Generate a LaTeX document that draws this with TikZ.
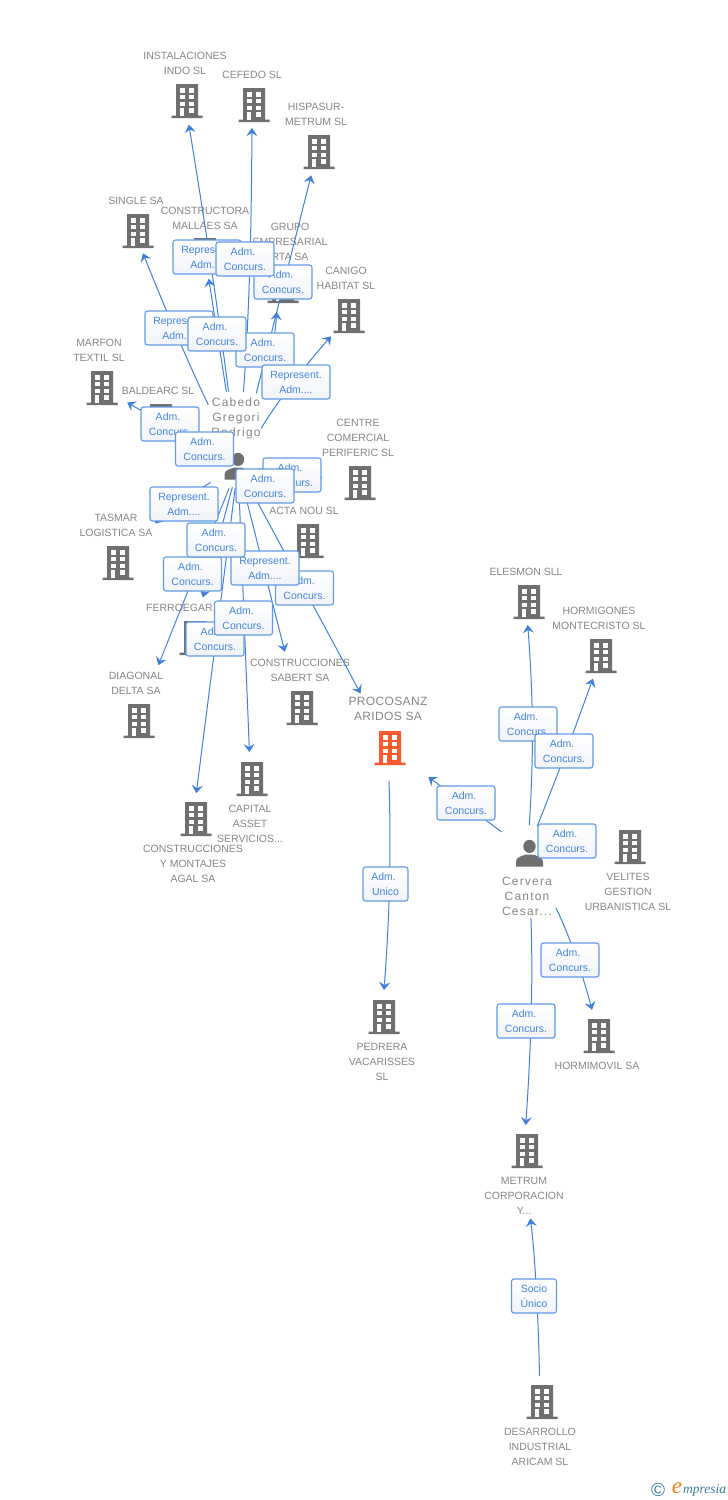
\documentclass[tikz,border=0pt]{standalone}
\usepackage{fontspec}
\setmainfont{Liberation Sans}
\newfontfamily\namefont[LetterSpace=10]{Liberation Sans}
\newfontfamily\firmfont[LetterSpace=3]{Liberation Sans}
\newfontfamily\logofont{Liberation Serif}
\usetikzlibrary{arrows.meta}

\definecolor{iconGrey}{HTML}{6F6F6F}
\definecolor{textGrey}{HTML}{858585}
\definecolor{lineBlue}{HTML}{3F80DE}
\definecolor{boxBlue}{HTML}{5F9BE6}
\definecolor{boxText}{HTML}{3F85DF}
\definecolor{boxShade}{HTML}{F1F3F8}
\definecolor{mainOrange}{HTML}{FF5A2C}
\definecolor{logoTeal}{HTML}{3A7C9C}
\definecolor{logoOrange}{HTML}{F58220}

% building and person icons, drawn round the centre of the node
\newcommand{\bldgicon}[1]{
\begin{scope}[shift={(path picture bounding box.center)}]
\fill[#1] (-11,-17) rectangle (11,15) (-15.5,14.5) rectangle (15.5,17);
\foreach \wy in {-12.7,-6,0.7}{
\fill[white] (-7.2,\wy) rectangle (-2.5,\wy+4.4);
\fill[white] (2.2,\wy) rectangle (6.8,\wy+4.4);
}
\fill[white] (-7,7.3) rectangle (-2.7,14.5);
\fill[white] (2.2,7.3) rectangle (6.8,11.7);
\end{scope}
}
\newcommand{\persicon}{
\begin{scope}[shift={(path picture bounding box.center)}]
\fill[iconGrey] (0,-6.6) ellipse (6.2 and 6.6);
\fill[iconGrey] (-13.5,13.7) -- (-13.5,9) .. controls (-13.5,4) and (-9,3.5) .. (-3.5,1.5) -- (3.5,1.5) .. controls (9,3.5) and (13.5,4) .. (13.5,9) -- (13.5,13.7) -- cycle;
\end{scope}
}
\newcommand{\admcon}{Adm.\kern4pt\\Concurs.}

\tikzset{
bldg/.style={inner sep=0pt,minimum width=32pt,minimum height=34pt,path picture={\bldgicon{iconGrey}}},
mainbldg/.style={inner sep=0pt,minimum width=32pt,minimum height=34pt,path picture={\bldgicon{mainOrange}}},
pers/.style={inner sep=0pt,minimum width=28pt,minimum height=28pt,path picture={\persicon}},
firm/.style={inner sep=0pt,yshift=-0.7pt,align=center,text=textGrey,font=\fontsize{10.5}{15}\selectfont},
mainfirm/.style={inner sep=0pt,yshift=-0.7pt,align=center,text=textGrey,font=\firmfont\fontsize{12}{15}\selectfont},
pname/.style={inner sep=0pt,yshift=-0.7pt,align=center,text=textGrey,font=\namefont\fontsize{12}{15}\selectfont},
conn/.style={lineBlue,line width=1pt,-{Stealth[length=8pt,width=11pt,inset=3pt]}},
role/.style={draw=boxBlue,line width=1.1pt,rounded corners=2.5pt,top color=white,bottom color=boxShade,
  inner sep=0pt,align=center,text=boxText,font=\fontsize{10.5}{15}\selectfont,minimum width=58pt,minimum height=34pt},
rolewide/.style={role,minimum width=68pt},
rolesmall/.style={role,minimum width=45pt}
}

\begin{document}
\begin{tikzpicture}[x=1pt,y=-1pt]
\useasboundingbox (0,0) rectangle (728,1500);

% labels
\node[firm] (lindo) at (185,62.5) {INSTALACIONES\\INDO SL};
\node[firm] (lcefedo) at (252,74) {CEFEDO SL};
\node[firm] (lhisp) at (316,113.5) {HISPASUR-\\METRUM SL};
\node[firm] (lsingle) at (136,200) {SINGLE SA};
\node[firm] (lmall) at (205,217.5) {CONSTRUCTORA\\MALLAES SA};
\node[firm] (lgrupo) at (290,241) {GRUPO\\EMPRESARIAL\\RTA SA};
\node[firm] (lcanigo) at (346,277.5) {CANIGO\\HABITAT SL};
\node[firm] (lmarfon) at (99,349.5) {MARFON\\TEXTIL SL};
\node[firm] (lbald) at (158,390) {BALDEARC SL};
\node[firm] (lcentre) at (358,437) {CENTRE\\COMERCIAL\\PERIFERIC SL};
\node[firm] (lacta) at (304,510) {ACTA NOU SL};
\node[firm] (ltasmar) at (116,524.5) {TASMAR\\LOGISTICA SA};
\node[firm,anchor=west] (lferro) at (146,607) {FERROEGAR};
\node[firm] (ldiag) at (136,682.5) {DIAGONAL\\DELTA SA};
\node[firm] (lsabert) at (300,669.5) {CONSTRUCCIONES\\SABERT SA};
\node[firm] (lcapital) at (250,823) {CAPITAL\\ASSET\\SERVICIOS...};
\node[firm] (lagal) at (193,863) {CONSTRUCCIONES\\Y MONTAJES\\AGAL SA};
\node[mainfirm] (lproc) at (388,708.5) {PROCOSANZ\\ARIDOS SA};
\node[firm] (lpedr) at (382,1061) {PEDRERA\\VACARISSES\\SL};
\node[firm] (lelesmon) at (526,571) {ELESMON SLL};
\node[firm] (lhorm) at (599,617.5) {HORMIGONES\\MONTECRISTO SL};
\node[firm] (lvel) at (628,891) {VELITES\\GESTION\\URBANISTICA SL};
\node[firm] (lmovil) at (597,1065) {HORMIMOVIL SA};
\node[firm] (lmetrum) at (524,1195) {METRUM\\CORPORACION\\Y...};
\node[firm] (ldesa) at (540,1446) {DESARROLLO\\INDUSTRIAL\\ARICAM SL};
\node[pname] (lcab) at (236,418) {Cabedo\\Gregori\\Rodrigo};
\node[pname] (lcerv) at (527,896) {Cervera\\Canton\\Cesar...};

% companies
\node[bldg] (indo) at (187,101) {};
\node[bldg] (cefedo) at (254,105) {};
\node[bldg] (hisp) at (319,152) {};
\node[bldg] (single) at (138,231) {};
\node[bldg] (mall) at (205,255) {};
\node[bldg] (grupo) at (283,286) {};
\node[bldg] (canigo) at (349,316) {};
\node[bldg] (marfon) at (102,388) {};
\node[bldg] (bald) at (161,421) {};
\node[bldg] (centre) at (360,483) {};
\node[bldg] (acta) at (308,541) {};
\node[bldg] (tasmar) at (118,563) {};
\node[bldg] (ferro) at (195,638) {};
\node[bldg] (diag) at (139,721) {};
\node[bldg] (sabert) at (302,708) {};
\node[bldg] (capital) at (252,779) {};
\node[bldg] (agal) at (196,819) {};
\node[mainbldg] (proc) at (390,748) {};
\node[bldg] (pedr) at (384,1017) {};
\node[bldg] (elesmon) at (529,602) {};
\node[bldg] (horm) at (601,656) {};
\node[bldg] (vel) at (630,847) {};
\node[bldg] (movil) at (599,1036) {};
\node[bldg] (metrum) at (527,1151) {};
\node[bldg] (desa) at (542,1402) {};
\node[pers] (cab) at (238,466) {};
\node[pers] (cerv) at (529.5,853) {};

% connectors
\draw[conn,shorten <=75pt,shorten >=24pt] (cab.center) to[bend right=1] ([xshift=-2pt]indo.center);
\draw[conn,shorten <=74pt,shorten >=23pt] (cab.center) to[bend right=2] ([xshift=-2pt]cefedo.center);
\draw[conn,shorten <=75pt,shorten >=24pt] (cab.center) to ([xshift=-2pt]hisp.center);
\draw[conn,shorten <=75pt,shorten >=26pt] (cab.center) to[bend right=8] ([xshift=-4pt]grupo.center);
\draw[conn,shorten <=44pt,shorten >=27pt] (cab.center) to[bend left=5] (canigo.center);
\draw[conn,shorten <=68pt,shorten >=24pt] (cab.center) to[bend left=2] ([xshift=-4pt]single.center);
\draw[conn,shorten <=75pt,shorten >=24pt] (cab.center) to (mall.center);
\draw[conn,shorten <=29pt,shorten >=29pt] (cab.center) to (marfon.center);
\draw[conn,shorten <=30pt,shorten >=24pt] (cab.center) to (bald.center);
\draw[conn,shorten <=20pt,shorten >=38pt] (cab.center) to (centre.center);
\draw[conn,shorten <=15pt,shorten >=55pt] (cab.center) to (acta.center);
\draw[conn,shorten <=32pt,shorten >=54pt] (cab.center) to[bend right=8] (tasmar.center);
\draw[conn,shorten <=22pt,shorten >=42pt] (cab.center) to ([xshift=-3pt]ferro.center);
\draw[conn,shorten <=24pt,shorten >=60pt] (cab.center) to ([xshift=-3pt]diag.center);
\draw[conn,shorten <=22pt,shorten >=26pt] (cab.center) to ([xshift=-3pt]agal.center);
\draw[conn,shorten <=21pt,shorten >=27pt] (cab.center) to ([xshift=-1.5pt]capital.center);
\draw[conn,shorten <=21pt,shorten >=58pt] (cab.center) to ([xshift=-3pt]sabert.center);
\draw[conn,shorten <=21pt,shorten >=62pt] (cab.center) to (proc.center);
\draw[conn,shorten <=35pt,shorten >=48pt] (cerv.center) to (proc.center);
\draw[conn,shorten <=28pt,shorten >=23pt] ([xshift=-2pt]cerv.center) to[bend right=4] ([xshift=-3pt]elesmon.center);
\draw[conn,shorten <=29pt,shorten >=24pt] ([xshift=-3pt]cerv.center) to[bend right=1] (horm.center);
\draw[conn,shorten <=15pt,shorten >=34pt] (cerv.center) to (vel.center);
\draw[conn,shorten <=63pt,shorten >=27pt] ([xshift=-4pt]cerv.center) to[bend left=7] (movil.center);
\draw[conn,shorten <=65pt,shorten >=26pt] ([xshift=-1pt]cerv.center) to[bend left=3] ([xshift=-3pt]metrum.center);
\draw[conn,shorten <=33pt,shorten >=27pt] ([xshift=-2pt]proc.center) to[bend left=3] ([xshift=-2pt]pedr.center);
\draw[conn,shorten <=26pt,shorten >=68pt] ([xshift=-2pt]desa.center) to[bend right=3] ([xshift=-5pt]metrum.center);

% role boxes
\node[rolewide] (r1) at (207,257) {Represent.\\Adm....};
\node[role] (r3) at (283,282) {\admcon};
\node[role] (r2) at (245,259) {\admcon};
\node[rolewide] (r4) at (179,328) {Represent.\\Adm....};
\node[role] (r6) at (265,350) {\admcon};
\node[role] (r5) at (217,334) {\admcon};
\node[rolewide] (r7) at (296,382) {Represent.\\Adm....};
\node[role] (r8) at (170,424) {\admcon};
\node[role] (r9) at (204.5,449) {\admcon};
\node[role] (r10) at (292,475) {\admcon};
\node[role] (r11) at (265,486) {\admcon};
\node[rolewide] (r12) at (184,504) {Represent.\\Adm....};
\node[role] (r13) at (192.5,574) {\admcon};
\node[role] (r14) at (304.5,588) {\admcon};
\node[rolewide] (r15) at (265,568) {Represent.\\Adm....};
\node[role] (r16) at (216,540) {\admcon};
\node[role] (r17) at (215,639) {\admcon};
\node[role] (r18) at (243.5,618) {\admcon};
\node[role] (r19) at (528,724) {\admcon};
\node[role] (r20) at (564,751) {\admcon};
\node[role] (r21) at (466,803) {\admcon};
\node[role] (r22) at (567,841) {\admcon};
\node[rolesmall] (r23) at (385.5,884) {Adm.\kern4pt\\Unico};
\node[role] (r24) at (570,960) {\admcon};
\node[role] (r25) at (526,1021) {\admcon};
\node[rolesmall] (r26) at (534,1296) {Socio\\Único};

% logo
\node[inner sep=0pt,text=logoTeal,font=\fontsize{19}{19}\selectfont] (copyr) at (658,1489.5) {©};
\node[inner sep=0pt,text=logoOrange,font=\logofont\itshape\fontsize{23}{23}\selectfont] (logoe) at (677,1488.5) {e};
\node[inner sep=0pt,anchor=west,text=logoTeal,font=\logofont\itshape\fontsize{13.5}{13.5}\selectfont] (logot) at (683,1490) {mpresia};
\end{tikzpicture}
\end{document}
